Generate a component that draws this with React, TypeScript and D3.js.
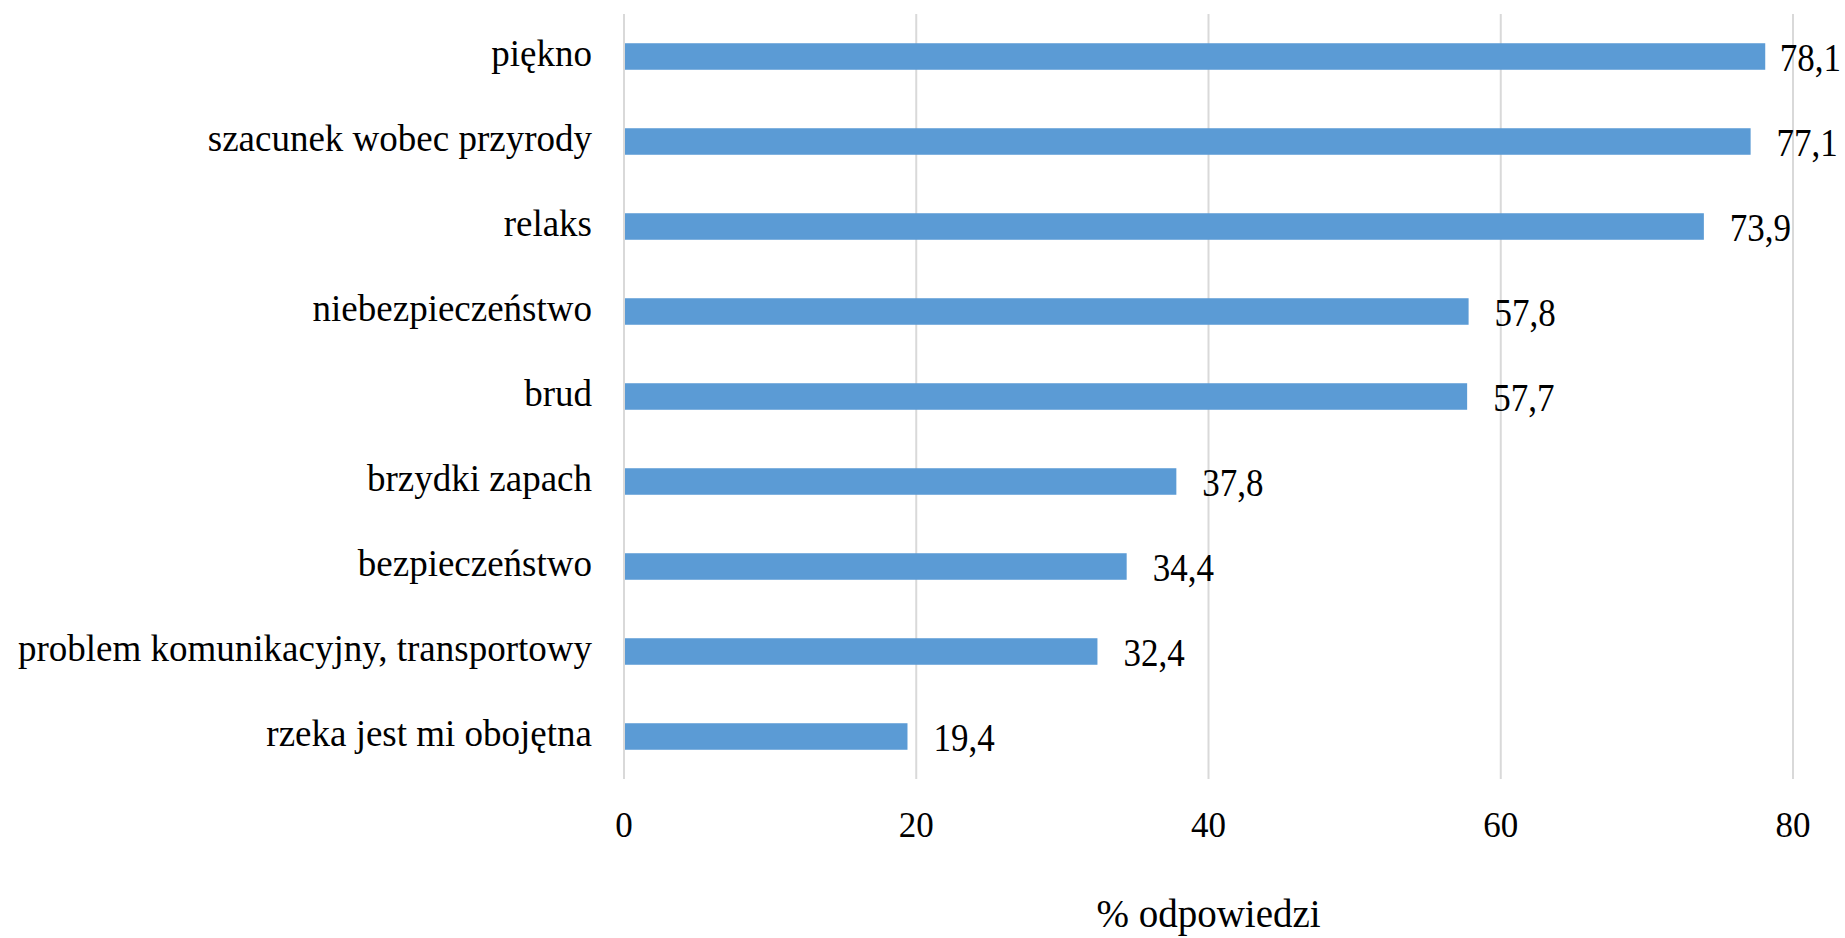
import React, { useEffect, useRef } from "react";
import * as d3 from "d3";

const categories = [
  "piękno",
  "szacunek wobec przyrody",
  "relaks",
  "niebezpieczeństwo",
  "brud",
  "brzydki zapach",
  "bezpieczeństwo",
  "problem komunikacyjny, transportowy",
  "rzeka jest mi obojętna",
];
const values = [78.1, 77.1, 73.9, 57.8, 57.7, 37.8, 34.4, 32.4, 19.4];
const xTicks = [0, 20, 40, 60, 80];
const xAxisTitle = "% odpowiedzi";

const W = 1845;
const H = 938;
const M = { left: 624, right: 52, top: 14, bottom: 159 };
const FONT = "'Liberation Serif', 'Times New Roman', serif";

export default function App() {
  const ref = useRef<SVGSVGElement>(null);

  useEffect(() => {
    const svg = d3.select(ref.current);
    svg.selectAll("*").remove();

    const x = d3.scaleLinear().domain([0, 80]).range([M.left, W - M.right]);
    const y = d3
      .scaleBand<string>()
      .domain(categories)
      .range([M.top, H - M.bottom])
      .paddingInner(0.688)
      .paddingOuter(0.344);

    const locale = d3.formatLocale({ decimal: ",", thousands: " ", grouping: [3], currency: ["", ""] });
    const fmt = locale.format(".1f");

    // gridlines
    svg
      .append("g")
      .selectAll("line")
      .data(xTicks)
      .join("line")
      .attr("x1", (d) => x(d))
      .attr("x2", (d) => x(d))
      .attr("y1", M.top)
      .attr("y2", H - M.bottom)
      .attr("stroke", "#D9D9D9")
      .attr("stroke-width", 2);

    // bars
    svg
      .append("g")
      .selectAll("rect")
      .data(values)
      .join("rect")
      .attr("x", x(0) + 1)
      .attr("y", (_, i) => y(categories[i])!)
      .attr("width", (d) => x(d) - x(0) - 1)
      .attr("height", y.bandwidth())
      .attr("fill", "#5B9BD5");

    // value labels (slightly tall glyphs as in the reference), kept inside the chart
    const labels = svg
      .append("g")
      .selectAll("text")
      .data(values)
      .join("text")
      .attr("font-family", FONT)
      .attr("font-size", 35)
      .attr("fill", "#000")
      .text((d) => fmt(d));
    labels.each(function (d, i) {
      const node = this as SVGTextElement;
      const tw = node.getComputedTextLength ? node.getComputedTextLength() : 61;
      const lx = Math.min(x(d) + 26, W - 4 - tw);
      const ly = y(categories[i])! + y.bandwidth() / 2 + 14;
      d3.select(node).attr("transform", `translate(${lx},${ly}) scale(1,1.17)`);
    });

    // category labels
    svg
      .append("g")
      .selectAll("text")
      .data(categories)
      .join("text")
      .attr("x", M.left - 32)
      .attr("y", (d) => y(d)! + y.bandwidth() / 2)
      .attr("dy", "0.27em")
      .attr("text-anchor", "end")
      .attr("font-family", FONT)
      .attr("font-size", 37)
      .attr("fill", "#000")
      .text((d) => d);

    // x tick labels
    svg
      .append("g")
      .selectAll("text")
      .data(xTicks)
      .join("text")
      .attr("x", (d) => x(d))
      .attr("y", 837)
      .attr("text-anchor", "middle")
      .attr("font-family", FONT)
      .attr("font-size", 35)
      .attr("fill", "#000")
      .text((d) => String(d));

    // axis title
    svg
      .append("text")
      .attr("x", (M.left + W - M.right) / 2)
      .attr("y", 927)
      .attr("text-anchor", "middle")
      .attr("font-family", FONT)
      .attr("font-size", 39)
      .attr("fill", "#000")
      .text(xAxisTitle);
  }, []);

  return (
    <svg
      ref={ref}
      width={W}
      height={H}
      style={{ position: "absolute", left: 0, top: 0, background: "#fff" }}
    />
  );
}
